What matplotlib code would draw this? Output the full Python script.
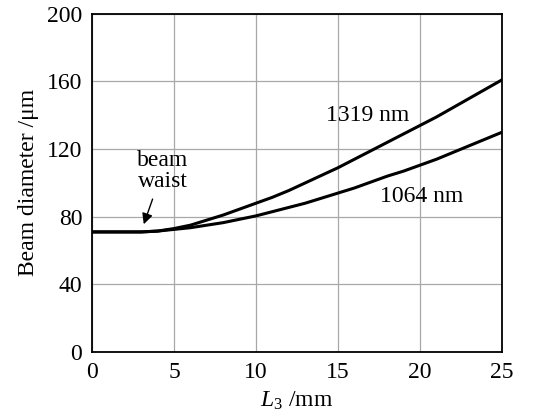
import matplotlib
matplotlib.use('Agg')
import numpy as np
import matplotlib.pyplot as plt

plt.rcParams['font.family'] = ['Liberation Serif', 'DejaVu Serif']
plt.rcParams['mathtext.fontset'] = 'custom'
plt.rcParams['mathtext.it'] = 'Liberation Serif:italic'
plt.rcParams['mathtext.rm'] = 'Liberation Serif'

# 横坐标 L3 (mm)
l3 = list(range(0, 26))
# 1319 nm 光束直径 (um)
d_1319 = [71, 71, 71, 71, 71.5, 73, 75, 78, 81, 84.5, 88, 91.5, 95.5, 100, 104.5,
          109, 114, 119, 124, 129, 134, 139, 144.5, 150, 155.5, 161]
# 1064 nm 光束直径 (um)
d_1064 = [71, 71, 71, 71, 71.5, 72.5, 73.5, 75, 76.5, 78.5, 80.5, 83, 85.5, 88, 91,
          94, 97, 100.5, 104, 107, 110.5, 114, 118, 122, 126, 130]

x_ticks = [0, 5, 10, 15, 20, 25]
y_ticks = [0, 40, 80, 120, 160, 200]

fig = plt.figure(figsize=(5.33, 4.2), dpi=100)
ax = fig.add_axes([0.1726, 0.162, 0.7694, 0.805])

ax.plot(l3, d_1319, color='black', linewidth=2.2)
ax.plot(l3, d_1064, color='black', linewidth=2.2)

ax.set_xlim(0, 25)
ax.set_ylim(0, 200)
ax.set_xticks(x_ticks)
ax.set_yticks(y_ticks)
ax.grid(True, color='#a8a8a8', linewidth=0.9)
ax.set_axisbelow(True)
ax.tick_params(length=0, labelsize=17, pad=7)
for s in ax.spines.values():
    s.set_linewidth(1.3)

ax.set_xlabel(r'$L_3$ /mm', fontsize=17, labelpad=5)
ax.set_ylabel('Beam diameter /μm', fontsize=17, labelpad=6)

ax.text(16.8, 140, '1319 nm', fontsize=17, ha='center', va='center')
ax.text(20.1, 92, '1064 nm', fontsize=17, ha='center', va='center')
ax.text(4.3, 107, 'beam\nwaist', fontsize=17, ha='center', va='center',
        linespacing=1.0)
ax.annotate('', xy=(3.1, 74), xytext=(3.75, 92),
            arrowprops=dict(arrowstyle='-|>', color='black', lw=1.0,
                            mutation_scale=16))

fig.savefig('out.png', dpi=100)
